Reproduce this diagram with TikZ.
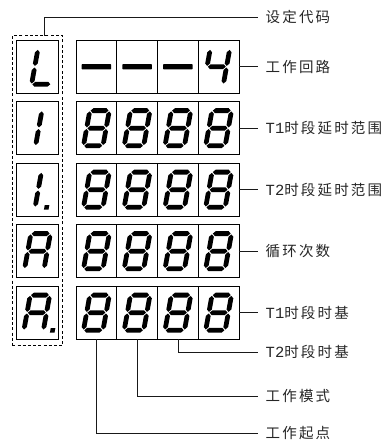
\documentclass[tikz,border=0pt]{standalone}
\usepackage{fontspec}
\usetikzlibrary{calc}
\newfontfamily\cjk[LetterSpace=15]{Noto Sans CJK SC}
\newfontfamily\lat{Liberation Mono}
\newcommand\hsg[1]{\fill (-8.95,#1) -- (-6.55,#1+2.4) -- (6.55,#1+2.4) -- (8.95,#1) -- (6.55,#1-2.4) -- (-6.55,#1-2.4) -- cycle;}
\newcommand\vsg[3]{\fill (#1,#2+0.8) -- (#1+2.4,#2+3.2) -- (#1+2.4,#3-3.2) -- (#1,#3-0.8) -- (#1-2.4,#3-3.2) -- (#1-2.4,#2+3.2) -- cycle;}
\newcommand\sgA{\hsg{17.6}}
\newcommand\sgG{\hsg{0}}
\newcommand\sgD{\hsg{-17.6}}
\newcommand\sgB{\vsg{9.75}{0}{17.6}}
\newcommand\sgC{\vsg{9.75}{-17.6}{0}}
\newcommand\sgE{\vsg{-9.75}{-17.6}{0}}
\newcommand\sgF{\vsg{-9.75}{0}{17.6}}
\newcommand\eight{\sgA\sgB\sgC\sgD\sgE\sgF\sgG}
\newcommand\digitat[2]{\begin{scope}[shift={#1},xslant=0.18,fill=black]#2\end{scope}}
\newcommand\dotat[1]{\begin{scope}[shift={#1},xslant=0.18]\fill (0,-20) rectangle (4.6,-15.4);\end{scope}}
\begin{document}
\begin{tikzpicture}[x=1pt,y=1pt,
  lbox/.style={draw, line width=0.8pt, minimum width=41.6pt, minimum height=53.3pt, inner sep=0pt, outer sep=0pt},
  cell/.style={draw, line width=0.8pt, minimum width=40.75pt, minimum height=53.3pt, inner sep=0pt, outer sep=0pt},
  dbox/.style={draw, line width=0.8pt, dash pattern=on 3pt off 2.2pt, minimum width=50.2pt, minimum height=310pt, inner sep=0pt, outer sep=0pt},
  lab/.style={anchor=west, inner xsep=7.5pt, inner ysep=1pt, text=black!85, font=\fontsize{14.5pt}{17pt}\cjk},
  conn/.style={line width=0.75pt, draw=black!90},
  dashbar/.style={fill=black, rounded corners=0.6pt}]
\useasboundingbox (0,0) rectangle (389,-440);
% dashed frame
\node[dbox] (frame) at (37.4,-190.7) {};
% left boxes
\foreach \i/\y in {1/66.7,2/128.2,3/189.7,4/251.2,5/312.7}{
  \node[lbox] (L\i) at (37.5,-\y) {};
  \foreach \j/\x in {1/96.4,2/137.1,3/177.9,4/218.6}{
    \node[cell] (R\i\j) at (\x,-\y) {};
  }
}
% left characters
\digitat{(44.5,-66.7)}{\sgF\sgE\sgD}
\digitat{(29.0,-128.2)}{\sgB\sgC}
\digitat{(28.5,-189.7)}{\sgB\sgC}
\dotat{(47.5,-189.7)}
\digitat{(37.5,-251.2)}{\sgA\sgB\sgC\sgE\sgF\sgG}
\digitat{(36.8,-312.7)}{\sgA\sgB\sgC\sgE\sgF\sgG}
\dotat{(53.5,-312.7)}
% row 1 right
\foreach \j in {1,2,3}{
  \fill[dashbar] ($(R1\j.center)+(-14.7,-2.6)$) rectangle ($(R1\j.center)+(14.7,2.6)$);
}
\digitat{(216.8,-66.7)}{\sgF\sgG\sgB\sgC}
% rows 2-5 right
\foreach \i/\y in {2/128.2,3/189.7,4/251.2,5/312.7}{
  \foreach \x in {96.4,137.1,177.9,218.6}{
    \digitat{(\x,-\y)}{\eight}
  }
}
% labels
\node[lab] (t0) at (258,-17.3) {设定代码};
\node[lab] (t1) at (258,-66.7) {工作回路};
\node[lab] (t2) at (258,-128.2) {{\lat\fontsize{15.5pt}{17pt}\selectfont T1}时段延时范围};
\node[lab] (t3) at (258,-189.7) {{\lat\fontsize{15.5pt}{17pt}\selectfont T2}时段延时范围};
\node[lab] (t4) at (258,-251.2) {循环次数};
\node[lab] (t5) at (258,-312.7) {{\lat\fontsize{15.5pt}{17pt}\selectfont T1}时段时基};
\node[lab] (t6) at (258,-352.3) {{\lat\fontsize{15.5pt}{17pt}\selectfont T2}时段时基};
\node[lab] (t7) at (258,-396) {工作模式};
\node[lab] (t8) at (258,-433) {工作起点};
% connectors
\coordinate (c0) at (44.7,-35.7);
\draw[conn] (c0) |- (t0.west);
\draw[conn] (R14.east) -- (t1.west);
\draw[conn] (R24.east) -- (t2.west);
\draw[conn] (R34.east) -- (t3.west);
\draw[conn] (R44.east) -- (t4.west);
\draw[conn] (R54.east) -- (t5.west);
\draw[conn] (R53.south) |- (t6.west);
\draw[conn] (R52.south) |- (t7.west);
\draw[conn] (R51.south) |- (t8.west);
\end{tikzpicture}
\end{document}
